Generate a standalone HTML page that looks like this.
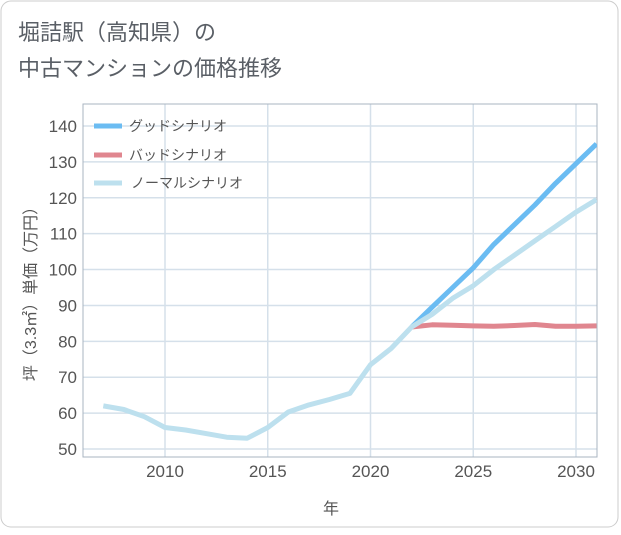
<!DOCTYPE html>
<html><head><meta charset="utf-8"><style>
body{margin:0;background:#fff;font-family:"Liberation Sans","Noto Sans CJK JP",sans-serif;}
#wrap{position:relative;width:621px;height:530px;}
</style></head><body>
<div id="wrap">
<svg id="chart" width="621" height="530" xmlns="http://www.w3.org/2000/svg">
<rect x="1" y="1" width="617" height="526" rx="10" fill="#fff" stroke="#ccc"/>
<text x="18" y="40" font-size="22" fill="#5a5f66">堀詰駅（高知県）の</text>
<text x="18" y="76" font-size="22" fill="#5a5f66">中古マンションの価格推移</text>
<g id="grid"></g><g id="lines"></g>
<text x="331" y="514" font-size="16" fill="#555" text-anchor="middle">年</text>
<text transform="translate(36,290) rotate(-90)" font-size="16" fill="#555" text-anchor="middle">坪（3.3㎡）単価（万円）</text>
<g>
<line x1="94" y1="126" x2="122" y2="126" stroke="#6bbcf2" stroke-width="5"/><text x="129" y="131" font-size="14" fill="#555">グッドシナリオ</text>
<line x1="94" y1="155" x2="122" y2="155" stroke="#e0868f" stroke-width="5"/><text x="129" y="160" font-size="14" fill="#555">バッドシナリオ</text>
<line x1="94" y1="183" x2="122" y2="183" stroke="#bde0ee" stroke-width="5"/><text x="131" y="188" font-size="14" fill="#555">ノーマルシナリオ</text>
</g>
</svg>
</div>
<script>
const normalYears=[2007,2008,2009,2010,2011,2012,2013,2014,2015,2016,2017,2018,2019,2020,2021,2022,2023,2024,2025,2026,2027,2028,2029,2030,2031];
const normalValues=[62,61,59,56,55.3,54.3,53.3,53,56,60.3,62.3,63.8,65.5,73.5,78,84,87.5,92,95.5,100,104,108,112,116,119.5];
const forecastYears=[2022,2023,2024,2025,2026,2027,2028,2029,2030,2031];
const goodValues=[84,89.5,95,100.5,107,112.5,118,124,129.5,135];
const badValues=[84,84.6,84.5,84.3,84.2,84.4,84.7,84.2,84.2,84.3];
const yTicks=[50,60,70,80,90,100,110,120,130,140];
const xTicks=[2010,2015,2020,2025,2030];
const L=83,R=597,T=104,B=457;
const X=y=>165+(y-2010)*(576-165)/20;
const Y=v=>449-(v-50)*(449-126)/90;
const NS='http://www.w3.org/2000/svg';
const grid=document.getElementById('grid'),lines=document.getElementById('lines');
function mk(tag,attrs,parent){const e=document.createElementNS(NS,tag);for(const k in attrs)e.setAttribute(k,attrs[k]);parent.appendChild(e);return e;}
yTicks.forEach(v=>{
 const l=mk('line',{x1:L,x2:R,y1:Y(v),y2:Y(v),stroke:'#d5e0ea','stroke-width':1.5},grid);
 
 
 const t=mk('text',{x:L-6,y:Y(v)+6,'font-size':17,fill:'#555','text-anchor':'end'},grid);
 t.textContent=v;
 
 
});
xTicks.forEach(v=>{
 const l=mk('line',{x1:X(v),x2:X(v),y1:T,y2:B,stroke:'#d5e0ea','stroke-width':1.5},grid);
 
 
 const t=mk('text',{x:X(v),y:B+20,'font-size':17,fill:'#555','text-anchor':'middle'},grid);
 t.textContent=v;
 
 
});
const f=mk('rect',{x:L,y:T,width:R-L,height:B-T,fill:'none',stroke:'#aab4c0','stroke-width':1},grid);


function series(xs,vs,color,name){
 const d=xs.map((x,i)=>(i?'L':'M')+X(x).toFixed(1)+','+Y(vs[i]).toFixed(1)).join('');
 const p=mk('path',{d:d,fill:'none',stroke:color,'stroke-width':5,'stroke-linejoin':'round'},lines);
 
 
}
const cp=mk('clipPath',{id:'cp'},lines);mk('rect',{x:L,y:T,width:R-L,height:B-T},cp);
lines.setAttribute('clip-path','url(#cp)');
series(forecastYears,goodValues,'#6bbcf2','good-scenario-line');
series(forecastYears,badValues,'#e0868f','bad-scenario-line');
series(normalYears,normalValues,'#bde0ee','normal-scenario-line');
</script>
</body></html>
